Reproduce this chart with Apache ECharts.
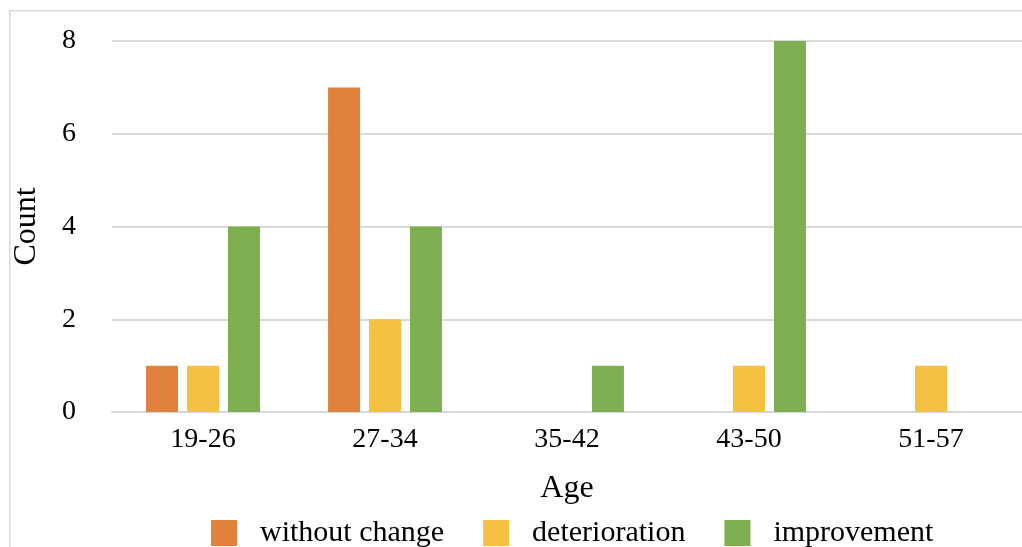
<!DOCTYPE html>
<html>
<head>
<meta charset="utf-8">
<script src="https://cdn.jsdelivr.net/npm/echarts@6/dist/echarts.min.js"></script>
<style>
html,body{margin:0;padding:0;background:#fff;}
#chart{width:1022px;height:547px;}
</style>
</head>
<body>
<div id="chart"></div>
<script>
const categories = ['19-26', '27-34', '35-42', '43-50', '51-57'];
const withoutChange = [1, 7, 0, 0, 0];
const deterioration = [1, 2, 0, 1, 1];
const improvement = [4, 4, 1, 8, 0];
const seriesNames = ['without change', 'deterioration', 'improvement'];
const colors = ['#E0823D', '#F5C142', '#7DAF50'];

const font = '"Liberation Serif", "Times New Roman", serif';
const chart = echarts.init(document.getElementById('chart'));
function mk(name, data, color) {
  return {
    name: name, type: 'bar', data: data.map(v => v === 0 ? null : v),
    barWidth: 32, barGap: '28%',
    itemStyle: { color: color }
  };
}
chart.setOption({
  animation: false,
  textStyle: { fontFamily: font },
  graphic: [{
    type: 'rect', left: 9, top: 10, z: -1,
    shape: { width: 1040, height: 560 },
    style: { fill: '#fff', stroke: '#d9d9d9', lineWidth: 1.5 }
  }],
  grid: { left: 112, top: 41, width: 915, height: 371 },
  legend: {
    left: 206, top: 513, itemWidth: 26, itemHeight: 26, itemGap: 39,
    icon: 'rect',
    textStyle: { fontFamily: font, fontSize: 30, color: '#000', padding: [0, 0, 0, 18] },
    data: seriesNames
  },
  xAxis: {
    type: 'category', data: categories,
    name: 'Age', nameLocation: 'middle', nameGap: 61,
    nameTextStyle: { fontFamily: font, fontSize: 32, color: '#000' },
    axisLine: { lineStyle: { color: '#d9d9d9', width: 2 } },
    axisTick: { show: false },
    axisLabel: { fontFamily: font, fontSize: 28, color: '#000', margin: 14 }
  },
  yAxis: {
    type: 'value', min: 0, max: 8, interval: 2,
    name: 'Count', nameLocation: 'middle', nameGap: 69,
    nameTextStyle: { fontFamily: font, fontSize: 32, color: '#000' },
    axisLine: { show: false },
    axisTick: { show: false },
    axisLabel: { fontFamily: font, fontSize: 28, color: '#000', margin: 36 },
    splitLine: { lineStyle: { color: '#d9d9d9', width: 2 } }
  },
  series: [
    mk(seriesNames[0], withoutChange, colors[0]),
    mk(seriesNames[1], deterioration, colors[1]),
    mk(seriesNames[2], improvement, colors[2])
  ]
});
</script>
</body>
</html>
